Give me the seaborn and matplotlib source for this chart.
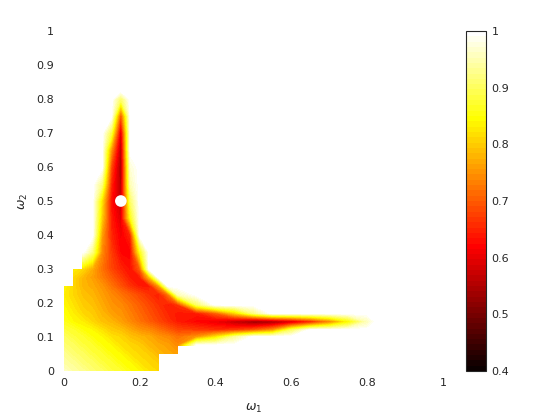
import numpy as np
import matplotlib
matplotlib.use('Agg')
import matplotlib.pyplot as plt
import seaborn as sns

n = np.nan

# grid of the map (omega_1 across, omega_2 up)
omega1 = [0, .025, .05, .075, .1, .125, .15, .175, .2, .225, .25, .275,
          .3, .35, .4, .45, .5, .55, .6, .65, .7, .75, .8, .825]
omega2 = [0, .025, .05, .075, .1, .12, .145, .17, .195, .225, .25, .275,
          .3, .35, .4, .45, .5, .55, .6, .65, .7, .75, .8, .825]

# values, one row per omega_2, nan = not drawn
score = [
    [.96, .94, .93, .91, .90, .88, .87, .85, .84, .82, .81] + [n] * 13,
    [.94, .93, .91, .90, .88, .87, .85, .84, .82, .81, .80] + [n] * 13,
    [.93, .91, .90, .88, .87, .85, .84, .82, .81, .80, .78, .77, .76] + [n] * 11,
    [.91, .90, .88, .87, .85, .84, .82, .81, .80, .78, .77, .76, .74, 1, 1, 1, 1] + [n] * 7,
    [.90, .88, .87, .85, .84, .82, .81, .79, .78, .77, .75, .74, .72, .75, .82, .93, 1, 1, 1, 1] + [n] * 4,
    [.88, .87, .85, .84, .82, .80, .79, .77, .75, .74, .72, .70, .68, .67, .66, .67, .70, .75, .90, 1, 1, 1, 1, 1],
    [.86, .84, .83, .81, .79, .78, .76, .74, .72, .70, .68, .66, .64, .62, .60, .56, .52, .53, .57, .63, .72, .83, .95, 1],
    [.85, .83, .81, .80, .78, .76, .75, .73, .71, .69, .67, .65, .64, .64, .70, .80, .92, 1, 1, 1, 1, 1, 1, 1],
    [.84, .82, .80, .79, .77, .75, .74, .72, .70, .68, .66, .64, .66, .90, 1, 1, 1, 1] + [n] * 6,
    [.83, .81, .79, .78, .76, .74, .72, .70, .68, .66, .64, .72, .95, 1, 1] + [n] * 9,
    [.84, .81, .78, .77, .75, .72, .69, .66, .64, .64, .75, 1, 1, 1] + [n] * 10,
    [n, .81, .78, .76, .73, .70, .67, .64, .64, .78, 1, 1] + [n] * 12,
    [n, .83, .81, .77, .72, .68, .65, .63, .70, 1, 1] + [n] * 13,
    [n, n, 1, .92, .74, .67, .62, .62, .85, 1] + [n] * 14,
    [n, n, 1, 1, .76, .65, .61, .65, 1, 1] + [n] * 14,
    [n, n, n, 1, .80, .64, .59, .85, 1] + [n] * 15,
    [n, n, n, 1, .82, .63, .57, .90, 1] + [n] * 15,
    [n, n, n, 1, .92, .65, .55, .95, 1] + [n] * 15,
    [n, n, n, 1, 1, .68, .54, .97, 1] + [n] * 15,
    [n, n, n, n, 1, .75, .55, 1, 1] + [n] * 15,
    [n, n, n, n, 1, .88, .58, 1, 1] + [n] * 15,
    [n, n, n, n, 1, 1, .68, 1, n] + [n] * 15,
    [n, n, n, n, 1, 1, .90, 1, n] + [n] * 15,
    [n, n, n, n, n, 1, 1, 1, n] + [n] * 15,
]

best = (0.15, 0.5)
cbar_ticks = [0.4, 0.5, 0.6, 0.7, 0.8, 0.9, 1]

sns.set_style('white')
plt.rcParams['font.family'] = ['DejaVu Sans']
plt.rcParams['font.size'] = 8
grey = '#262626'

fig = plt.figure(figsize=(5.6, 4.2), dpi=100)
ax = fig.add_axes([64 / 560, 49 / 420, 379 / 560, 340 / 420])
cax = fig.add_axes([466 / 560, 49 / 420, 20 / 560, 340 / 420])

cmap = plt.get_cmap('hot', 64)
levels = np.linspace(0.4, 1.0, 65)
Z = np.ma.masked_invalid(np.array(score))
cs = ax.contourf(omega1, omega2, Z, levels=levels, cmap=cmap,
                 corner_mask=False, antialiased=False)

sns.scatterplot(x=[best[0]], y=[best[1]], color='white', s=70,
                edgecolor='none', ax=ax, zorder=5)

ax.set_xlim(0, 1)
ax.set_ylim(0, 1)
ax.set_xticks(np.arange(0, 1.01, 0.2))
ax.set_yticks(np.arange(0, 1.01, 0.1))
ax.set_xticklabels(['0', '0.2', '0.4', '0.6', '0.8', '1'])
ax.set_yticklabels(['0', '0.1', '0.2', '0.3', '0.4', '0.5', '0.6', '0.7', '0.8', '0.9', '1'])
ax.tick_params(length=0, colors=grey, labelsize=8)
ax.tick_params(axis='x', pad=5)
ax.tick_params(axis='y', pad=7)
sns.despine(ax=ax, left=True, bottom=True)
ax.set_xlabel(r'$\omega_1$', color=grey, fontsize=9, labelpad=10)
ax.set_ylabel(r'$\omega_2$', color=grey, fontsize=9, labelpad=5)

sm = matplotlib.cm.ScalarMappable(norm=matplotlib.colors.Normalize(0.4, 1.0), cmap=cmap)
cb = fig.colorbar(sm, cax=cax, ticks=cbar_ticks)
cb.ax.set_yticklabels(['0.4', '0.5', '0.6', '0.7', '0.8', '0.9', '1'])
cb.outline.set_edgecolor(grey)
cb.outline.set_linewidth(0.8)
cax.tick_params(direction='in', length=3, width=0.6, colors=grey, labelsize=8, pad=4)

fig.savefig('out.png', dpi=100, facecolor='white')
